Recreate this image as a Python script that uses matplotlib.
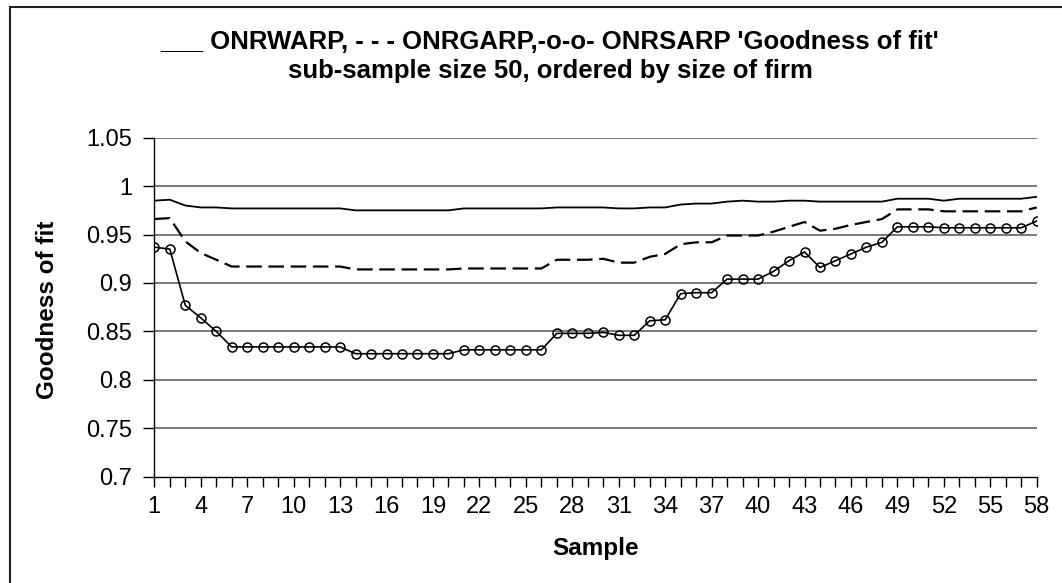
import matplotlib
matplotlib.use("Agg")
import matplotlib.pyplot as plt
from matplotlib.patches import Rectangle

plt.rcParams["font.family"] = ["Liberation Sans", "DejaVu Sans"]

samples = list(range(1, 59))

onrwarp = [0.985, 0.986, 0.980, 0.978, 0.978, 0.977, 0.977, 0.977, 0.977, 0.977,
           0.977, 0.977, 0.977, 0.975, 0.975, 0.975, 0.975, 0.975, 0.975, 0.975,
           0.977, 0.977, 0.977, 0.977, 0.977, 0.977, 0.978, 0.978, 0.978, 0.978,
           0.977, 0.977, 0.978, 0.978, 0.981, 0.982, 0.982, 0.984, 0.985, 0.984,
           0.984, 0.985, 0.985, 0.984, 0.984, 0.984, 0.984, 0.984, 0.987, 0.987,
           0.987, 0.985, 0.987, 0.987, 0.987, 0.987, 0.987, 0.989]

onrgarp = [0.966, 0.967, 0.943, 0.931, 0.924, 0.917, 0.917, 0.917, 0.917, 0.917,
           0.917, 0.917, 0.917, 0.914, 0.914, 0.914, 0.914, 0.914, 0.914, 0.914,
           0.915, 0.915, 0.915, 0.915, 0.915, 0.915, 0.924, 0.924, 0.924, 0.925,
           0.921, 0.921, 0.927, 0.930, 0.940, 0.942, 0.942, 0.949, 0.949, 0.949,
           0.953, 0.958, 0.963, 0.954, 0.956, 0.960, 0.963, 0.966, 0.976, 0.976,
           0.976, 0.974, 0.974, 0.974, 0.974, 0.974, 0.974, 0.978]

onrsarp = [0.937, 0.935, 0.877, 0.864, 0.850, 0.834, 0.834, 0.834, 0.834, 0.834,
           0.834, 0.834, 0.834, 0.827, 0.827, 0.827, 0.827, 0.827, 0.827, 0.827,
           0.831, 0.831, 0.831, 0.831, 0.831, 0.831, 0.848, 0.848, 0.848, 0.849,
           0.846, 0.846, 0.861, 0.862, 0.889, 0.890, 0.890, 0.904, 0.904, 0.904,
           0.912, 0.923, 0.932, 0.916, 0.923, 0.930, 0.937, 0.942, 0.958, 0.958,
           0.958, 0.957, 0.957, 0.957, 0.957, 0.957, 0.957, 0.964]

yticks = [0.7, 0.75, 0.8, 0.85, 0.9, 0.95, 1, 1.05]
ytick_labels = ["0.7", "0.75", "0.8", "0.85", "0.9", "0.95", "1", "1.05"]
xtick_labels = list(range(1, 59, 3))

fig = plt.figure(figsize=(10.62, 5.83), dpi=100)
ax = fig.add_axes([0.1453, 0.1823, 0.8309, 0.5815])

# outer chart border (left and top visible, rest runs off the image)
fig.add_artist(Rectangle((10 / 1062, -0.1), 1.2, 1.1 - 7 / 583, transform=fig.transFigure,
                         fill=False, edgecolor="#222222", linewidth=1.5))

for y in yticks[1:]:
    ax.axhline(y, color="#555555", linewidth=1.1, zorder=1)

ax.plot(samples, onrwarp, color="black", linewidth=1.3, zorder=3)
ax.plot(samples, onrgarp, color="black", linewidth=1.6, linestyle=(0, (7, 3)), zorder=3)
ax.plot(samples, onrsarp, color="black", linewidth=1.2, marker="o", markersize=6.5,
        markerfacecolor="none", markeredgecolor="black", markeredgewidth=1.1, zorder=4)

ax.set_xlim(1, 58)
ax.set_ylim(0.7, 1.05)
ax.set_yticks(yticks)
ax.set_yticklabels(ytick_labels)
ax.set_xticks(xtick_labels)
ax.set_xticks(samples, minor=True)
ax.tick_params(axis="y", direction="out", length=8, width=1, labelsize=17, pad=8)
ax.tick_params(axis="x", which="both", direction="out", length=7, width=1, labelsize=17, pad=7)

for side in ["top", "right"]:
    ax.spines[side].set_visible(False)
ax.spines["left"].set_linewidth(1)
ax.spines["bottom"].set_linewidth(1)

fig.text(596 / 1062, 1 - 549 / 583, "Sample", ha="center", va="center",
         fontsize=17.5, fontweight="bold")
fig.text(48 / 1062, 1 - 310 / 583, "Goodness of fit", ha="center", va="center",
         rotation=90, fontsize=17.5, fontweight="bold")

fig.text(0.518, 1 - 42 / 583, "___ ONRWARP, - - - ONRGARP,-o-o- ONRSARP 'Goodness of fit'",
         ha="center", va="center", fontsize=18.5, fontweight="bold")
fig.text(0.518, 1 - 71 / 583, "sub-sample size 50, ordered by size of firm",
         ha="center", va="center", fontsize=18.5, fontweight="bold")

fig.savefig("out.png", dpi=100)
